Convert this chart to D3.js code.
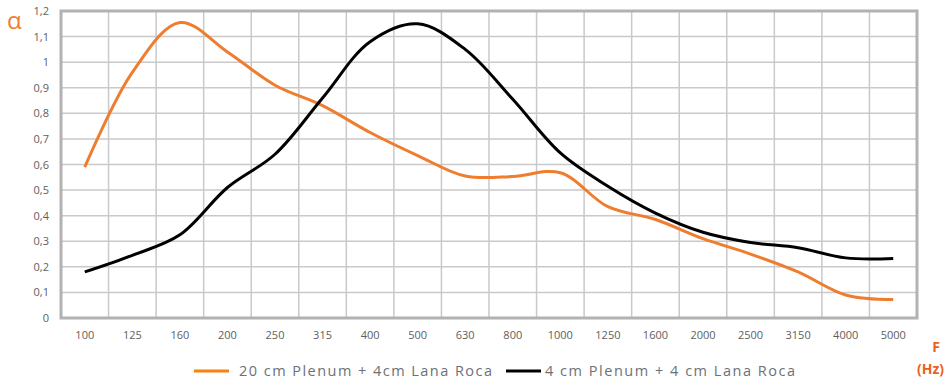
<!DOCTYPE html>
<html>
<head>
<meta charset="utf-8">
<script src="https://cdn.jsdelivr.net/npm/d3@7"></script>
<style>
  body { margin: 0; background: #fff; }
  svg { display: block; font-family: "Open Sans", "Noto Sans", sans-serif; }
</style>
</head>
<body>
<div id="chart"></div>
<script>
// third-octave bands (Hz)
var bands = ["100", "125", "160", "200", "250", "315", "400", "500", "630",
             "800", "1000", "1250", "1600", "2000", "2500", "3150", "4000", "5000"];

// 20 cm Plenum + 4cm Lana Roca
var plenum20 = [0.59, 0.96, 1.155, 1.04, 0.91, 0.83, 0.725, 0.635, 0.555,
                0.553, 0.568, 0.435, 0.385, 0.31, 0.25, 0.18, 0.09, 0.072];

// 4 cm Plenum + 4 cm Lana Roca
var plenum4 = [0.18, 0.245, 0.325, 0.51, 0.64, 0.86, 1.08, 1.15, 1.05,
               0.855, 0.645, 0.515, 0.41, 0.335, 0.295, 0.275, 0.235, 0.233];

var yTicks = [0, 0.1, 0.2, 0.3, 0.4, 0.5, 0.6, 0.7, 0.8, 0.9, 1, 1.1, 1.2];
var seriesNames = ["20 cm Plenum + 4cm Lana Roca", "4 cm Plenum + 4 cm Lana Roca"];
var seriesColors = ["#ef7d2f", "#000000"];

var w = 947, h = 381;
var margin = { top: 11, right: 30, bottom: 63, left: 61 };

var svg = d3.select("#chart").append("svg")
    .attr("width", w)
    .attr("height", h);

var x = d3.scaleBand()
    .domain(bands)
    .range([margin.left, w - margin.right]);

var y = d3.scaleLinear()
    .domain([0, 1.2])
    .range([h - margin.bottom, margin.top]);

var cx = function (b) { return x(b) + x.bandwidth() / 2; };

// grid
svg.append("g").selectAll("line")
    .data(yTicks)
    .enter().append("line")
    .attr("x1", margin.left).attr("x2", w - margin.right)
    .attr("y1", function (d) { return y(d); })
    .attr("y2", function (d) { return y(d); })
    .attr("stroke", "#c9c9c9")
    .attr("stroke-width", 1.5);

svg.append("g").selectAll("line")
    .data(bands.slice(1))
    .enter().append("line")
    .attr("x1", function (d) { return x(d); })
    .attr("x2", function (d) { return x(d); })
    .attr("y1", margin.top).attr("y2", h - margin.bottom)
    .attr("stroke", "#c9c9c9")
    .attr("stroke-width", 1.5);

// frame
svg.append("rect")
    .attr("x", margin.left)
    .attr("y", margin.top)
    .attr("width", w - margin.left - margin.right)
    .attr("height", h - margin.top - margin.bottom)
    .attr("fill", "none")
    .attr("stroke", "#b3b1b1")
    .attr("stroke-width", 3);

// axes (labels only)
var fmt = function (d) { return d3.format(".1~f")(d).replace(".", ","); };

var gy = svg.append("g")
    .attr("transform", "translate(" + (margin.left - 12) + ",0)")
    .call(d3.axisLeft(y).tickValues(yTicks).tickFormat(fmt).tickSize(0).tickPadding(0));

var gx = svg.append("g")
    .attr("transform", "translate(0," + (h - margin.bottom + 11) + ")")
    .call(d3.axisBottom(x).tickSize(0).tickPadding(0));

svg.selectAll(".domain").remove();
svg.selectAll(".tick text")
    .attr("fill", "#606060")
    .style("font-size", "11px")
    .style("font-family", "'Open Sans', sans-serif");
gx.selectAll(".tick text").attr("dy", "0.9em");

// series
var line = d3.line()
    .x(function (d, i) { return cx(bands[i]); })
    .y(function (d) { return y(d); })
    .curve(d3.curveCatmullRom.alpha(0.5));

[plenum20, plenum4].forEach(function (s, i) {
    svg.append("path")
        .datum(s)
        .attr("d", line)
        .attr("fill", "none")
        .attr("stroke", seriesColors[i])
        .attr("stroke-width", 3)
        .attr("stroke-linejoin", "round");
});

// axis titles
svg.append("text")
    .attr("x", 7).attr("y", 29)
    .attr("fill", "#ef7d2f")
    .style("font-size", "24px")
    .text("α");

svg.append("text")
    .attr("x", 936).attr("y", 352)
    .attr("text-anchor", "middle")
    .attr("fill", "#e9621c")
    .style("font-size", "14px")
    .style("font-weight", "bold")
    .text("F");

svg.append("text")
    .attr("x", 917).attr("y", 374)
    .attr("fill", "#e9621c")
    .style("font-size", "14px")
    .style("font-weight", "bold")
    .text("(Hz)");

// legend
var legendX = [194, 506];
var legendText = [239, 545];
var legendWidth = [253, 250];
seriesNames.forEach(function (name, i) {
    svg.append("line")
        .attr("x1", legendX[i]).attr("x2", legendX[i] + 35)
        .attr("y1", 371).attr("y2", 371)
        .attr("stroke", i === 0 ? "#f7820f" : "#000")
        .attr("stroke-width", 3);
    svg.append("text")
        .attr("x", legendText[i]).attr("y", 376)
        .attr("fill", "#6c7178")
        .attr("textLength", legendWidth[i])
        .attr("lengthAdjust", "spacing")
        .style("font-size", "14.5px")
        .text(name);
});
</script>
</body>
</html>
